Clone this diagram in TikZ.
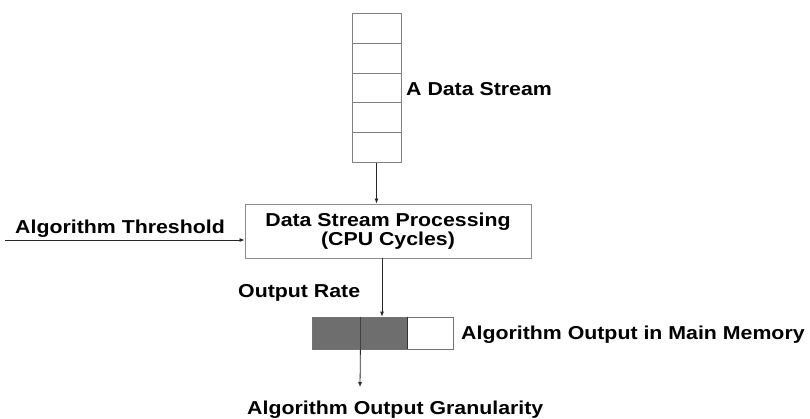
\documentclass[tikz,border=0pt]{standalone}
\usepackage{fontspec}
\setmainfont{Liberation Sans}[FakeStretch=1.14]
\usetikzlibrary{arrows.meta}
\begin{document}
\begin{tikzpicture}[x=1pt,y=-1pt,
  lab/.style={inner sep=0pt,anchor=base west,font=\fontsize{18.7}{20}\selectfont\bfseries},
  cell/.style={draw=black!50,line width=0.8pt,minimum width=49pt,minimum height=29.8pt,inner sep=0pt},
  procbox/.style={draw=black!45,line width=0.9pt,minimum width=286pt,minimum height=54pt,inner sep=0pt,align=center,font=\fontsize{18.7}{17}\selectfont\bfseries},
  memcell/.style={draw=black!55,line width=0.8pt,minimum height=32pt,inner sep=0pt},
  arr/.style={draw=black!85,line width=0.8pt,-{Latex[length=5pt,width=4pt]}}]
\useasboundingbox (0,0) rectangle (810,418);
\fill[white] (0,0) rectangle (810,418);
% data stream stack
\node[cell] (c1) at (376.5,28.2) {};
\node[cell] (c2) at (376.5,58.0) {};
\node[cell] (c3) at (376.5,87.8) {};
\node[cell] (c4) at (376.5,117.6) {};
\node[cell] (c5) at (376.5,147.4) {};
\node[lab] (ds) at (406,95) {A Data Stream};
% processing box
\node[procbox] (proc) at (388,231) {Data Stream Processing\\(CPU Cycles)};
\draw[arr] (c5.south) -- (proc.north -| c5.south);
% threshold
\node[lab] (thrl) at (15,233) {Algorithm Threshold};
\coordinate (thr) at (5,240);
\draw[arr] (thr) -- (thr -| proc.west);
% memory bar
\node[memcell,fill=black!57,minimum width=48pt] (m1) at (336,333) {};
\node[memcell,fill=black!57,minimum width=47pt] (m2) at (383.5,333) {};
\node[memcell,fill=white,minimum width=46pt] (m3) at (430,333) {};
\draw[black!80,line width=1.2pt] (m2.north east) -- (m2.south east);
\draw[black!75,line width=0.8pt] (m1.north east) -- (m1.south east);
\node[lab] (orl) at (238,297) {Output Rate};
\draw[arr] (proc.south -| 382,0) -- (m2.north -| 382,0);
\node[lab] (mem) at (461,339) {Algorithm Output in Main Memory};
\coordinate (gr) at (360,387);
\draw[arr] (m1.south east) -- (gr);
\node[lab] (gran) at (247,414) {Algorithm Output Granularity};
\end{tikzpicture}
\end{document}
